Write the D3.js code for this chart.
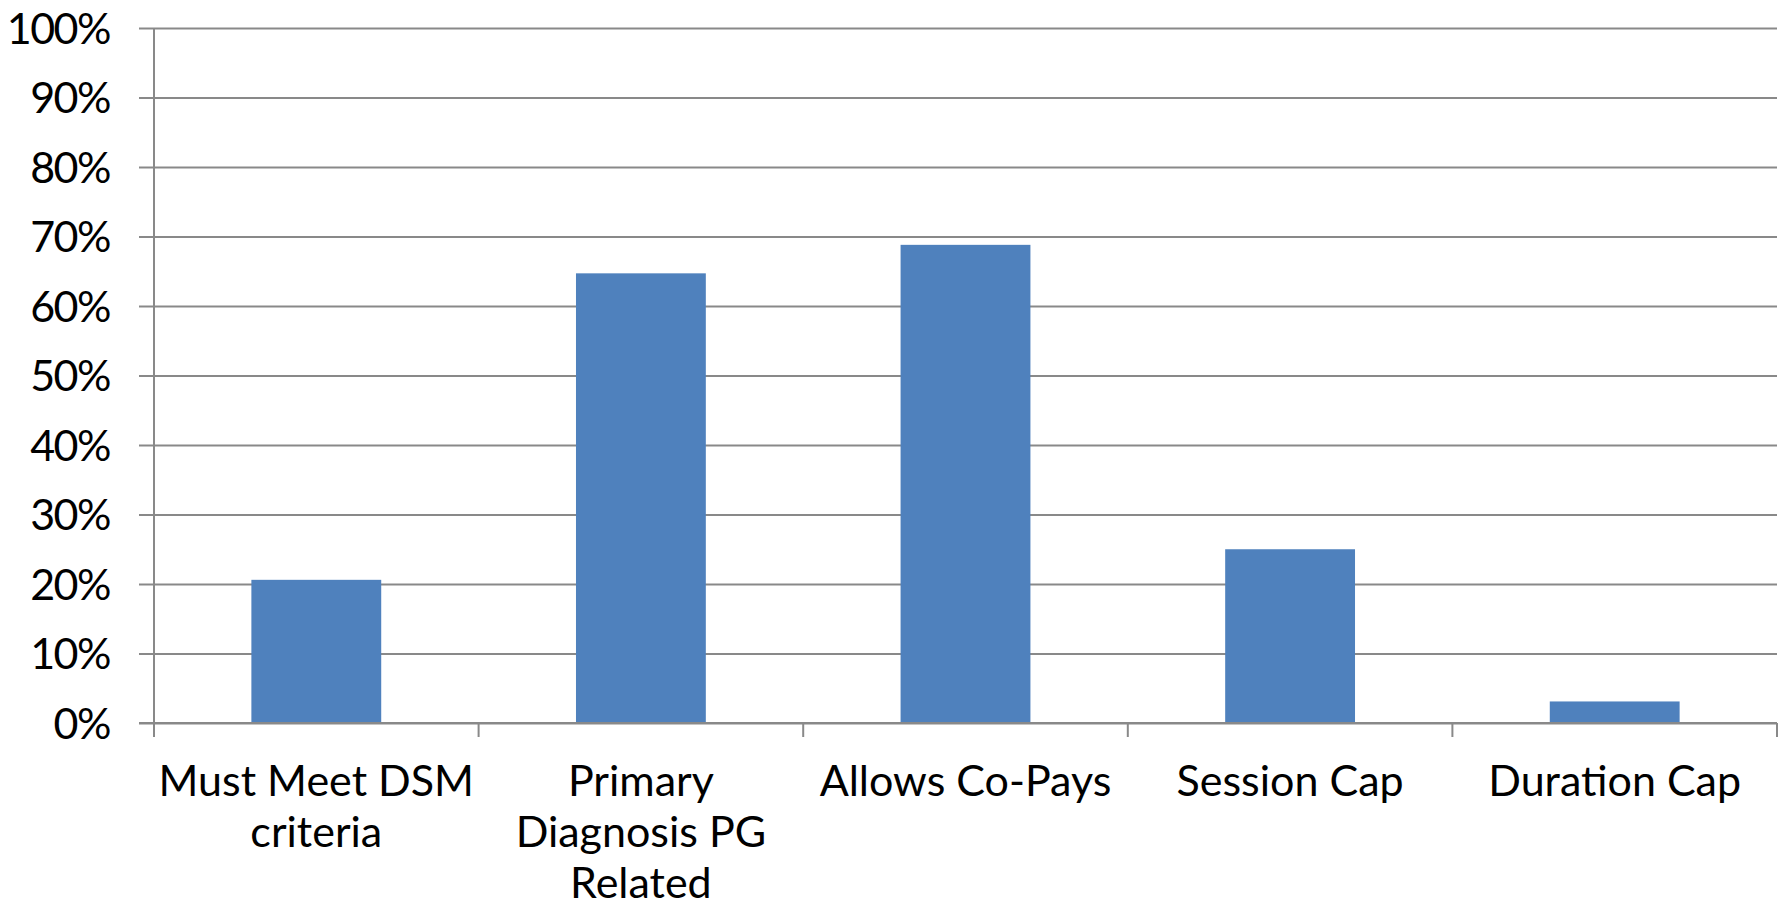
<!DOCTYPE html>
<html>
<head>
<meta charset="utf-8">
<script src="https://cdn.jsdelivr.net/npm/d3@7/dist/d3.min.js"></script>
<style>
  html, body { margin: 0; padding: 0; background: #ffffff; }
  svg { display: block; }
  text { font-family: Lato, "Noto Sans", sans-serif; fill: #000; }
</style>
</head>
<body>
<svg id="chart" width="1779" height="912"></svg>
<script>
const categories = [
  "Must Meet DSM\ncriteria",
  "Primary\nDiagnosis PG\nRelated",
  "Allows Co-Pays",
  "Session Cap",
  "Duration Cap"
];
const values = [0.206, 0.647, 0.688, 0.250, 0.031];
const yTicks = [0, 0.1, 0.2, 0.3, 0.4, 0.5, 0.6, 0.7, 0.8, 0.9, 1.0];

const mLeft = 154, mRight = 1777, mTop = 28, mBottom = 723;
const svg = d3.select("#chart");

const x = d3.scaleBand().domain(categories).range([mLeft, mRight]).paddingInner(0).paddingOuter(0);
const y = d3.scaleLinear().domain([0, 1]).range([mBottom, mTop]);

const gridColor = "#898989";

// gridlines + y labels
const yAxis = d3.axisLeft(y).tickValues(yTicks).tickFormat(d3.format(".0%"))
  .tickSize(-(mRight - mLeft)).tickPadding(0);
const gy = svg.append("g").attr("transform", `translate(${mLeft},0)`).call(yAxis);
gy.select(".domain").remove();
gy.selectAll(".tick line").attr("stroke", gridColor).attr("stroke-width", 2)
  .attr("x1", -15);
gy.selectAll(".tick text")
  .attr("x", -44)
  .attr("dy", "0.36em")
  .style("font-size", "43px")
  .style("letter-spacing", "-1.5px")
  .style("font-family", "Lato, 'Noto Sans', sans-serif")
  .attr("text-anchor", "end")
  .attr("fill", "#000");

// bars
const bw = x.bandwidth() * 0.4;
svg.append("g").selectAll("rect").data(values).join("rect")
  .attr("x", (d, i) => x(categories[i]) + (x.bandwidth() - bw) / 2)
  .attr("width", bw)
  .attr("y", d => y(d))
  .attr("height", d => y(0) - y(d))
  .attr("fill", "#4F81BD");

// y axis line
svg.append("line").attr("x1", mLeft).attr("x2", mLeft).attr("y1", mTop).attr("y2", mBottom + 14)
  .attr("stroke", gridColor).attr("stroke-width", 2);
// x axis line
svg.append("line").attr("x1", mLeft - 15).attr("x2", mRight).attr("y1", mBottom).attr("y2", mBottom)
  .attr("stroke", gridColor).attr("stroke-width", 2);
// category boundary ticks
const bounds = categories.map(c => x(c)).concat([mRight]);
svg.append("g").selectAll("line").data(bounds.slice(1)).join("line")
  .attr("x1", d => d).attr("x2", d => d)
  .attr("y1", mBottom).attr("y2", mBottom + 14)
  .attr("stroke", gridColor).attr("stroke-width", 2);

// category labels
const lab = svg.append("g").selectAll("text").data(categories).join("text")
  .attr("x", d => x(d) + x.bandwidth() / 2)
  .attr("y", 796)
  .attr("text-anchor", "middle")
  .style("font-size", "43px");
lab.each(function(d) {
  const t = d3.select(this);
  d.split("\n").forEach((line, i) => {
    t.append("tspan").attr("x", t.attr("x")).attr("dy", i === 0 ? 0 : 51).text(line);
  });
});
</script>
</body>
</html>
